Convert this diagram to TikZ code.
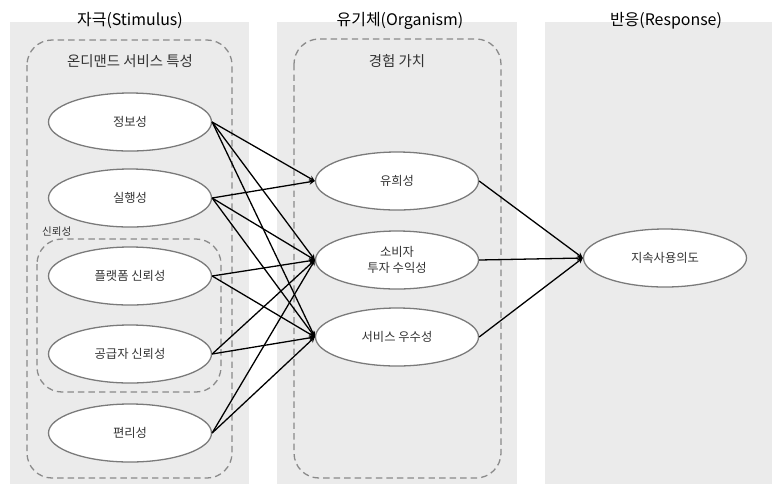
\documentclass[tikz,border=0pt]{standalone}
\usepackage{fontspec}
\setmainfont{Noto Sans CJK KR}
\usetikzlibrary{shapes.geometric}

\definecolor{painelcinza}{HTML}{EBEBEB}
\definecolor{tracocinza}{HTML}{8A8A8A}
\definecolor{bordacinza}{HTML}{7A7A7A}
\definecolor{textocinza}{HTML}{333333}

\begin{document}
\begin{tikzpicture}[x=0.03cm, y=-0.03cm, >=stealth,
    painel/.style={fill=painelcinza},
    caixa/.style={draw=tracocinza, line width=1.1pt, dash pattern=on 5.5pt off 3.5pt, rounded corners=0.75cm},
    elipse/.style={ellipse, draw=bordacinza, line width=1.1pt, fill=white, inner sep=0pt,
        minimum width=4.89cm, minimum height=1.74cm, align=center, text=textocinza,
        font=\fontsize{10.5}{13.6}\selectfont},
    seta/.style={->, line width=1.1pt},
    titulo/.style={anchor=base, font=\fontsize{13.6}{16}\selectfont},
    rotulo/.style={anchor=base, text=textocinza, font=\fontsize{12.3}{14}\selectfont}]
    \useasboundingbox (0,0) rectangle (775,490);

    % Paineis
    \fill[painel] (10,22) rectangle (249,484);
    \fill[painel] (277,22) rectangle (517,484);
    \fill[painel] (545,22) rectangle (772,484);

    % Titulos
    \node[titulo] (T1) at (130,25) {자극(Stimulus)};
    \node[titulo] (T2) at (400,25) {유기체(Organism)};
    \node[titulo] (T3) at (666,25) {반응(Response)};

    % Caixas tracejadas
    \draw[caixa] (27,40) rectangle (232,478);
    \node[rotulo] (L1) at (130,66) {온디맨드 서비스 특성};
    \draw[caixa] (37,239) rectangle (221,392);
    \node[rotulo, anchor=base west, font=\fontsize{9}{11}\selectfont] (L2) at (38,235) {신뢰성};
    \draw[caixa] (294,39) rectangle (501,478);
    \node[rotulo] (L3) at (397,66) {경험 가치};

    % Elipses
    \node[elipse] (S1) at (130,122) {정보성};
    \node[elipse] (S2) at (130,198) {실행성};
    \node[elipse] (S3) at (130,276) {플랫폼 신뢰성};
    \node[elipse] (S4) at (130,354) {공급자 신뢰성};
    \node[elipse] (S5) at (130,433) {편리성};
    \node[elipse] (O1) at (397,181) {유희성};
    \node[elipse] (O2) at (397,260) {소비자\\투자 수익성};
    \node[elipse] (O3) at (397,337) {서비스 우수성};
    \node[elipse] (R) at (665,258) {지속사용의도};

    % Setas
    \draw[seta] (S1.east) -- (O1.west);
    \draw[seta] (S1.east) -- (O2.west);
    \draw[seta] (S1.east) -- (O3.west);
    \draw[seta] (S2.east) -- (O1.west);
    \draw[seta] (S2.east) -- (O2.west);
    \draw[seta] (S2.east) -- (O3.west);
    \draw[seta] (S3.east) -- (O2.west);
    \draw[seta] (S3.east) -- (O3.west);
    \draw[seta] (S4.east) -- (O2.west);
    \draw[seta] (S4.east) -- (O3.west);
    \draw[seta] (S5.east) -- (O2.west);
    \draw[seta] (S5.east) -- (O3.west);
    \draw[seta] (O1.east) -- (R.west);
    \draw[seta] (O2.east) -- (R.west);
    \draw[seta] (O3.east) -- (R.west);
\end{tikzpicture}
\end{document}
